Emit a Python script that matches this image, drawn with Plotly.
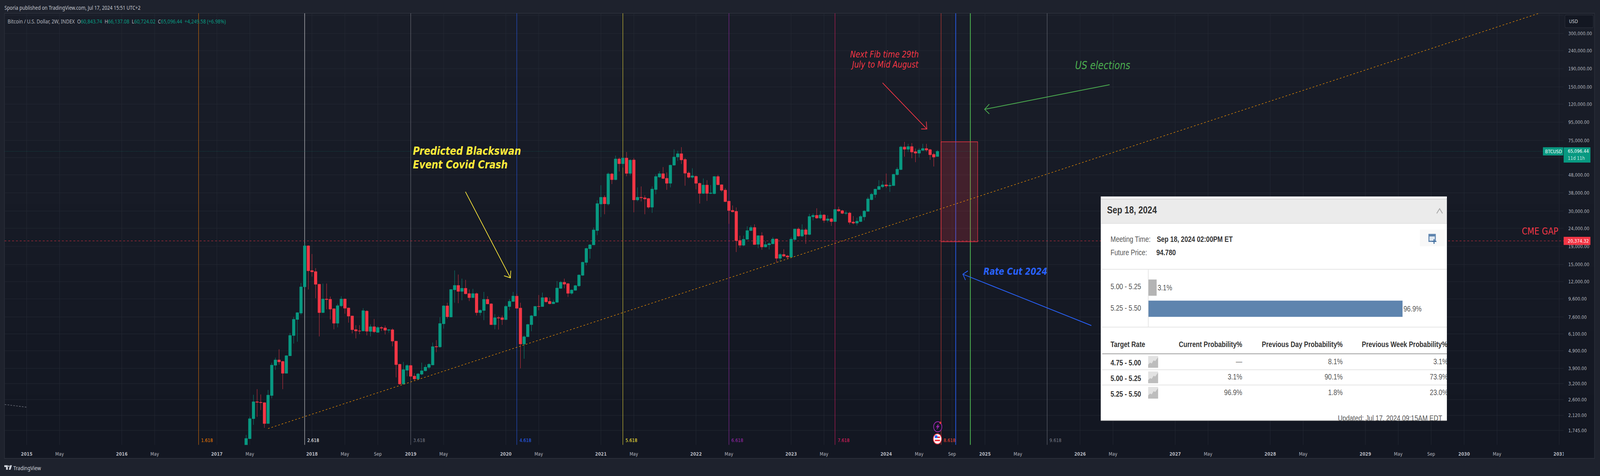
import plotly.graph_objects as go

W, H = 5014, 1218
PANE_L, PANE_R, PANE_T, PANE_B = 14, 4904, 34, 1138.5
FRAME_R, FRAME_B = 5001, 1173
UI = "DejaVu Sans"
TITLE = "Noto Sans"
ARIAL = "Liberation Sans"
UP, DOWN = "#089981", "#f23645"

first_bar = 60
opens = [1250,1566,2031,2530,2512,2500,1906,2742,4060,4352,
         4267,3660,4589,5970,7350,7988,11223,19116,13880,13688,
         11620,8034,9590,9552,8455,7003,8770,9590,8540,7700,
         6450,6343,6333,8194,6300,6694,6222,6628,6590,6396,
         6435,5552,4115,3183,3805,4050,3530,3399,3615,3779,
         3950,4075,5180,5150,6950,8770,7590,10800,11442,10581,
         11022,10290,9755,10290,8034,8260,9543,9010,6871,7530,
         7522,7338,8690,9280,9950,8530,5349,5876,6871,7700,
         8717,8690,9755,9307,9020,9190,11000,11917,11700,10321,
         10730,11370,13040,15400,18400,19340,23290,32860,35860,32860,
         48570,45050,58970,55430,59710,48880,58240,34650,35860,35640,
         35310,31550,39640,46630,48720,45900,42990,54390,60440,63140,
         58600,49180,46490,47080,42990,37700,42060,37700,37580,46930,
         42200,39400,34110,30290,29900,20500,19250,20810,23290,24250,
         19490,21810,18830,19370,19610,20880,16250,17090,16770,16510,
         20730,23770,21690,23530,22140,27820,28390,27390,28530,26570,
         27120,26170,30630,30160,29120,29260,26040,25650,26170,27820,
         29860,34760,37140,39670,41100,42150,41510,41720,48090,51360,
         68910,66850,69260,64840,63550,65840,67530,66510,62590,60843.74]
highs = [1646,2086,2770,2978,2780,2512,2948,4200,4481,4993,
         4290,4615,6174,7606,8060,11810,19765,19240,17192,14319,
         11650,11718,11718,9897,8480,9004,9935,9650,8570,7710,
         6826,6826,8506,8280,6906,7398,6733,6733,6799,6470,
         6548,5560,4130,4243,4115,4090,3664,3680,4202,4090,
         4160,5451,5622,7570,8860,9137,10847,13889,13170,12491,
         12297,10847,10940,10420,8370,10514,9939,9070,7885,7700,
         7738,8860,9570,10514,10250,9137,5980,6950,7790,8717,
         10097,10416,9880,9780,9490,12104,12104,12491,11800,10847,
         11500,13190,15550,18650,19540,24250,34540,41930,36770,49490,
         49180,61600,60060,60060,64550,58780,59710,40770,41280,36770,
         35530,41280,48270,50270,53060,49490,54730,66810,65570,68720,
         59710,50270,52240,47520,43400,45760,44770,42060,47220,47970,
         42330,40390,34220,32250,31450,21810,21810,24630,24870,25260,
         21900,22780,20300,19980,21400,21010,17360,18300,16980,21390,
         23830,24260,25260,24010,28960,29120,31100,30020,28820,28390,
         27390,30750,31730,30470,30160,29710,28100,27530,28530,30320,
         36020,37900,40000,44800,44340,48820,43450,48560,52950,69970,
         73610,71770,72490,67530,67870,71770,71770,67180,63870,66137.08]
lows = [1190,1566,1875,2078,2271,1804,1906,2642,3822,4094,
        2978,3660,4589,5380,5509,7800,10897,10850,12826,9684,
        5902,8034,8390,7354,6473,6640,8640,7925,7058,6138,
        5753,6079,6333,5981,5902,6174,6174,6333,6054,6198,
        5193,3470,3160,3160,3518,3356,3335,3380,3570,3750,
        3864,4075,4809,5100,6534,7450,7590,9137,9080,9430,
        10200,9335,9730,7738,7738,7290,8992,6871,6475,6450,
        6855,7300,8280,9280,8500,3899,4419,5876,6315,7680,
        8280,8690,9150,8950,8992,9137,11000,11022,9847,10150,
        10700,11230,12950,14835,16190,19340,21950,27750,28780,32250,
        42590,44770,50110,52730,47080,47670,29520,34000,34000,28780,
        30960,29330,37350,46200,45480,39520,40770,54050,57520,55250,
        41670,45760,45760,39770,33060,37470,34220,37350,37350,41930,
        38540,33790,25420,29520,17630,18650,19010,20750,23140,19370,
        18530,18180,18710,18240,19550,15400,15540,16560,16200,16460,
        20510,21520,21410,19610,21920,26570,27120,26980,25780,25910,
        24750,26170,29710,28820,28530,25260,25260,24880,26040,26570,
        29860,34560,35660,39670,40480,40480,38470,41720,47600,51110,
        60710,64510,59490,56560,60100,65840,64840,58300,53480,60724.02]
closes = [1572,2031,2530,2512,2500,1906,2758,4070,4352,4243,
          3660,4599,5981,7369,8034,11223,19116,13821,13633,11604,
          8034,9590,9514,8407,7003,8794,9590,8506,7678,6435,
          6333,6333,8243,6309,6694,6272,6628,6564,6396,6435,
          5552,4094,3183,3838,4050,3518,3399,3630,3779,3961,
          4115,5170,5150,6978,8770,7618,10847,11442,10581,11022,
          10256,9755,10290,8034,8287,9543,8992,6871,7522,7490,
          7338,8717,9307,9970,8500,5349,5876,6892,7715,8717,
          8690,9755,9249,9020,9220,11056,11917,11621,10321,10778,
          11406,13090,15451,18470,19360,23500,33060,35860,32960,48570,
          45050,58970,55430,59710,48880,58060,34650,35860,35640,35090,
          31550,39890,46930,48720,45760,42990,54390,60440,63140,58240,
          49030,46490,47370,42990,37700,42060,37700,37940,46930,42200,
          39270,33890,30190,29710,20430,19250,20810,23290,24250,19430,
          21810,18830,19430,19670,20880,16250,17090,16720,16510,20840,
          23770,21690,23530,22140,27960,28390,27390,28530,26570,27120,
          26170,30630,30020,29120,29260,25910,25650,26310,27960,30020,
          35120,37330,39870,41310,42150,41510,41930,48320,51620,68910,
          66850,69260,64510,63550,66170,67530,66170,62270,60400,65096.44]

time_tick_bars = [0,9,26,35,52,61,78,87,96,105,114,131,140,157,166,183,192,209,218,
                  235,244,253,262,271,288,297,314,323,340,349,366,375,384,393,402,419]
time_tick_text = ["2015","May","2016","May","2017","May","2018","May","Sep","2019","May",
                  "2020","May","2021","May","2022","May","2023","May","2024","May","Sep",
                  "2025","May","2026","May","2027","May","2028","May","2029","May","Sep",
                  "2030","May","2031"]
price_ticks = [380000,300000,240000,190000,150000,120000,95000,75000,60000,48000,38000,30000,
               24000,19000,15000,12000,9600,7600,6100,4900,3900,3200,2600,2120,1745]
hidden_price_ticks = [380000,60000]

last_price = 65096.44
cme_gap_price = 20374.32
zone_top, zone_bottom = 73660, 20160
zone_bars = [250, 260]
trend_bars, trend_prices = [66, 413.5], [1787, 390000]
old_trend_bars, old_trend_prices = [-6, 0], [2441, 2358]

fib_bars = [47, 76, 105, 134, 163, 192, 221, 250, 279]
fib_labels = ["1.618","2.618","3.618","4.618","5.618","6.618","7.618","8.618","9.618"]
fib_line_colors = ["#f57c00","#ffffff","#787b86","#2962ff","#ffeb3b","#9c27b0","#e91e63","#f44336","#787b86"]
fib_text_colors = ["#f57c00","#ffffff","#787b86","#2962ff","#ffeb3b","#9c27b0","#e91e63","#f44336","#787b86"]
rate_cut_bar, election_bar = 254, 258

prob_rates = ["5.25 - 5.50", "5.00 - 5.25"]
prob_values = [96.9, 3.1]
prob_colors = ["#5e84ae", "#b4b4b4"]
table_rates = ["4.75 - 5.00", "5.00 - 5.25", "5.25 - 5.50"]
table_current = ["—", "3.1%", "96.9%"]
table_prev_day = ["8.1%", "90.1%", "1.8%"]
table_prev_week = ["3.1%", "73.9%", "23.0%"]

X_RANGE = [(PANE_L - 83.7) / 11.471, (PANE_R - 83.7) / 11.471]
Y_BOTTOM, Y_TOP = 1445, 390000


def fx(x): return x / W
def fy(y): return 1 - y / H
def px2x(x): return (x - 3602) / 8.222
def px2y(y): return (790 - y) / 54.1


shapes, notes = [], []


def rect(x0, y0, x1, y1, fill, line=None, lw=1, layer="above"):
    shapes.append(dict(type="rect", xref="paper", yref="paper", x0=fx(x0), x1=fx(x1), y0=fy(y0), y1=fy(y1),
                       fillcolor=fill, line=dict(color=line or "rgba(0,0,0,0)", width=lw if line else 0), layer=layer))


def poly(points, color, lw=2, close=False, fill=None, layer="above"):
    d = " ".join(("M" if i == 0 else "L") + f"{fx(a):.6f},{fy(b):.6f}" for i, (a, b) in enumerate(points))
    if close:
        d += " Z"
    shapes.append(dict(type="path", path=d, xref="paper", yref="paper", layer=layer,
                       line=dict(color=color, width=lw), fillcolor=fill or "rgba(0,0,0,0)"))


def arrow(tail, tip, h1, h2, color):
    poly([tail, tip], color, 2)
    poly([h1, tip, h2], color, 2)


def pshape(kind, x0, y0, x1, y1, fill, line=None, lw=0):
    shapes.append(dict(type=kind, xref="x2", yref="y2", layer="between", x0=px2x(x0), x1=px2x(x1),
                       y0=px2y(y0), y1=px2y(y1), fillcolor=fill,
                       line=dict(color=line or "rgba(0,0,0,0)", width=lw)))


def note(x, y, text, size=13, color="#b2b5be", anchor="left", family=UI, align="left"):
    notes.append(dict(x=fx(x), y=fy(y), xref="paper", yref="paper", text=text, showarrow=False,
                      xanchor=anchor, yanchor="middle", align=align, borderpad=0,
                      font=dict(size=size, color=color, family=family)))


# page background and chart pane
rect(0, 0, W, H, "#1e222d", layer="below")
BANDS = 14
for i in range(BANDS):
    t = i / (BANDS - 1)
    c = tuple(round(a + (b - a) * t) for a, b in zip((25, 29, 40), (19, 23, 34)))
    rect(14, 34 + (FRAME_B - 34) * i / BANDS, FRAME_R, 34 + (FRAME_B - 34) * (i + 1) / BANDS + 1,
         f"rgb{c}", layer="below")
rect(14, 34, FRAME_R, FRAME_B, "rgba(0,0,0,0)", "#2a2e39", 2, layer="below")

# fib zones, event lines, zone, level lines
for b, c in zip(fib_bars, fib_line_colors):
    shapes.append(dict(type="line", xref="x", yref="y", x0=b, x1=b, y0=Y_BOTTOM, y1=Y_TOP, layer="between",
                       line=dict(color=c, width=1)))
for b, c, w in [(rate_cut_bar, "#2962ff", 2), (election_bar, "#4caf50", 2.5)]:
    shapes.append(dict(type="line", xref="x", yref="y", x0=b, x1=b, y0=Y_BOTTOM, y1=Y_TOP, layer="between",
                       line=dict(color=c, width=w)))
shapes.append(dict(type="rect", xref="x", yref="y", x0=zone_bars[0], x1=zone_bars[1], y0=zone_bottom, y1=zone_top,
                   layer="between", fillcolor="rgba(242,54,69,0.2)", line=dict(color="#f23645", width=1.5)))
shapes.append(dict(type="line", xref="x", yref="y", x0=X_RANGE[0], x1=X_RANGE[1], y0=last_price, y1=last_price,
                   layer="between", line=dict(color="#089981", width=1, dash="1px,3px")))
shapes.append(dict(type="line", xref="x", yref="y", x0=X_RANGE[0], x1=X_RANGE[1], y0=cme_gap_price, y1=cme_gap_price,
                   layer="between", line=dict(color="#f23645", width=1, dash="6px,6px")))

# drawn arrows
arrow((1459.7, 490.7), (1600.8, 711), (1580.8, 705.6), (1602, 692.6), "#ffeb3b")
arrow((2767.9, 212), (2906.9, 330), (2889, 330), (2905, 310.8), "#f23645")
arrow((3480, 216.8), (3088, 279.7), (3102.7, 266.5), (3102.7, 291.4), "#4caf50")
arrow((3422.8, 833), (3019.8, 701.6), (3035.7, 693), (3028, 716.4), "#2962ff")

# price scale labels
rect(4904, 1145, 4925, 1171, "rgb(19,23,34)")
r = "M{0},{1} L{2},{1} Q{3},{1} {3},{4} L{3},{5} Q{3},{6} {2},{6} L{0},{6} Q{7},{6} {7},{5} L{7},{4} Q{7},{1} {0},{1} Z"
shapes.append(dict(type="path", xref="paper", yref="paper", layer="above",
                   path=r.format(fx(4912), fy(38.4), fx(4993), fx(4997), fy(42.4), fy(67), fy(71), fx(4908)),
                   fillcolor="#131722", line=dict(color="#2a2e39", width=1.5)))
note(4920, 54, "USD", 13, "#d1d4dc")
rect(4839, 376.8, 4902.7, 397.8, "#089981")
rect(4904, 377, 4988, 416, "#089981")
rect(4904, 606, 4988, 626.8, "#f23645")
note(4845, 387.3, "BTCUSD", 13, "#ffffff")
note(4916, 386.5, f"{last_price:,.2f}", 13, "#ffffff")
note(4916, 404, "11d 11h", 13, "#c9e9e3")
note(4916, 616, f"{cme_gap_price:,.2f}", 13, "#ffffff")

# header and footer text
note(13, 19, "Sporia published on TradingView.com, Jul 17, 2024 15:51 UTC+2", 14.4, "#c4c7cf", family=TITLE)
g = lambda s: f"<span style='color:#089981'>{s}</span>"
note(23, 54, "Bitcoin / U.S. Dollar, 2W, INDEX  O" + g("60,843.74") + "  H" + g("66,137.08") + "  L" + g("60,724.02")
     + "  C" + g("65,096.44") + "  " + g("+4,249.58 (+6.98%)"), 14.7, "#b2b5be", family=TITLE)
note(41.5, 1197, "TradingView", 15, "#d1d4dc", family=TITLE)
rect(13.5, 1190.5, 24.5, 1195, "#d1d4dc")
rect(19, 1195, 24.5, 1202, "#d1d4dc")
shapes.append(dict(type="circle", xref="paper", yref="paper", x0=fx(25.5), x1=fx(29.5), y0=fy(1191), y1=fy(1195),
                   fillcolor="#d1d4dc", line=dict(width=0), layer="above"))
poly([(31.5, 1190.5), (37.5, 1190.5), (33, 1202), (27.5, 1202)], "#d1d4dc", 0, True, "#d1d4dc")

# chart annotations
note(1294, 386, "<b><i>Predicted Blackswan</i></b>", 29, "#ffeb3b")
note(1294, 421, "<b><i>Event Covid Crash</i></b>", 29, "#ffeb3b")
note(2882, 139, "<i>Next Fib time 29th</i>", 23, "#f23645", anchor="right")
note(2882, 164.7, "<i>July to Mid August</i>", 23, "#f23645", anchor="right")
note(3371, 167, "<i>US elections</i>", 28, "#4caf50")
note(3083.5, 694, "<b><i>Rate Cut 2024</i></b>", 25, "#2962ff")
note(4772, 591, "CME GAP", 25, "#f23645")
for b, lab, c in zip(fib_bars, fib_labels, fib_text_colors):
    notes.append(dict(x=b, xref="x", xshift=7, y=fy(1126), yref="paper", text=lab, showarrow=False, xanchor="left",
                      yanchor="middle", borderpad=0, font=dict(size=13, color=c, family=UI)))

# calendar event badges
shapes.append(dict(type="circle", xref="paper", yref="paper", x0=fx(2928), x1=fx(2954), y0=fy(1079), y1=fy(1105),
                   fillcolor="#131722", line=dict(color="#9c27b0", width=2), layer="above"))
poly([(2943, 1085), (2936, 1093), (2941, 1093), (2938, 1099), (2946, 1090), (2941, 1090)], "#9c27b0", 1, True, "#9c27b0")
shapes.append(dict(type="circle", xref="paper", yref="paper", x0=fx(2946.5), x1=fx(2952.5), y0=fy(1079), y1=fy(1085),
                   fillcolor="#f23645", line=dict(width=0), layer="above"))
shapes.append(dict(type="circle", xref="paper", yref="paper", x0=fx(2927), x1=fx(2953), y0=fy(1110), y1=fy(1136),
                   fillcolor="#ffffff", line=dict(color="#f23645", width=2), layer="above"))
rect(2932, 1117, 2948, 1121, "#f23645")
rect(2932, 1125, 2948, 1129, "#f23645")
rect(2932, 1114, 2940, 1121, "#2962ff")

# FedWatch panel drawn in its own subplot above the price chart
pshape("rect", 3452, 502.5, 4538, 1077, "#ffffff")
pshape("rect", 3452, 508.5, 4538, 510.5, "#cccccc")
pshape("rect", 3452, 510.5, 4538, 571, "#ebebeb")
pshape("rect", 3452, 571, 4538, 572.5, "#dddddd")
pshape("rect", 4453, 587.5, 4531, 630, "#f8f8f8")
pshape("rect", 4480, 598.5, 4503, 619, "#5e84ae")
pshape("rect", 4483, 605, 4500, 616, "#dfe7f0")
pshape("rect", 4496, 612, 4499, 624, "#3f6d9e")
pshape("rect", 4491, 616.5, 4505, 619, "#3f6d9e")
pshape("rect", 3457, 688, 4538, 690, "#e6e6e6")
pshape("rect", 3457, 836, 4538, 838, "#e6e6e6")
pshape("rect", 3600.5, 690, 3602, 836, "#d8d8d8")
pshape("rect", 3457, 904, 4538, 906.5, "#b0b0b0")
pshape("rect", 3457, 945.5, 4538, 947, "#dddddd")
pshape("rect", 3457, 984.5, 4538, 986, "#dddddd")
pshape("rect", 3452, 1075.5, 4538, 1077, "#999999")
for top in [911, 950.5, 990]:
    pshape("rect", 3601, top, 3632, top + 30, "#e2e2e2")
    x_pts = [3601, 3607, 3612, 3618, 3623, 3632, 3632, 3601]
    y_pts = [22, 17, 19, 11, 13, 3, 30, 30]
    d = " ".join(("M" if i == 0 else "L") + f"{px2x(a):.4f},{px2y(top + b):.4f}" for i, (a, b) in enumerate(zip(x_pts, y_pts))) + " Z"
    shapes.append(dict(type="path", path=d, xref="x2", yref="y2", layer="between",
                       fillcolor="#bdbdbd", line=dict(width=0)))
shapes.append(dict(type="path", xref="x2", yref="y2", layer="between",
                   path=f"M{px2x(4506)},{px2y(546)} L{px2x(4515)},{px2y(534)} L{px2x(4524)},{px2y(546)}",
                   fillcolor="rgba(0,0,0,0)", line=dict(color="#aaaaaa", width=2.5)))

fig = go.Figure()
fig.add_trace(go.Candlestick(
    x=list(range(first_bar, first_bar + len(closes))), open=opens, high=highs, low=lows, close=closes,
    increasing=dict(line=dict(color=UP, width=1), fillcolor=UP),
    decreasing=dict(line=dict(color=DOWN, width=1), fillcolor=DOWN),
    whiskerwidth=0, hoverinfo="skip"))
fig.add_trace(go.Scatter(x=trend_bars, y=trend_prices, mode="lines", hoverinfo="skip",
                         line=dict(color="#f59300", width=1.3, dash="5px,6px")))
fig.add_trace(go.Scatter(x=old_trend_bars, y=old_trend_prices, mode="lines", hoverinfo="skip",
                         line=dict(color="#787b86", width=1.3, dash="5px,4px")))
fig.add_trace(go.Bar(x=prob_values, y=[0, 1], orientation="h", xaxis="x2", yaxis="y2", width=0.767,
                     marker=dict(color=prob_colors, line=dict(width=0)),
                     text=[f"{v}%" for v in prob_values], textposition="outside", cliponaxis=True,
                     textfont=dict(family=ARIAL, size=20, color="#555555"), hoverinfo="skip"))


def ptext(xs, ys, texts, size=20, color="#555555", pos="middle right"):
    fig.add_trace(go.Scatter(x=[px2x(a) for a in xs], y=[px2y(b) for b in ys], text=texts, mode="text",
                             textposition=pos, xaxis="x2", yaxis="y2", hoverinfo="skip",
                             textfont=dict(family=ARIAL, size=size, color=color)))


ptext([3472], [540], ["<b>Sep 18, 2024</b>"], 26, "#333333")
ptext([3483, 3483], [614.5, 648], ["Meeting Time:", "Future Price:"])
ptext([3628, 3626.5], [614.5, 648], ["<b>Sep 18, 2024 02:00PM ET</b>", "<b>94.780</b>"], 20, "#333333")
ptext([3483, 3483], [735.5, 790], prob_rates[::-1])
ptext([3483], [883], ["<b>Target Rate</b>"], 20, "#333333")
ptext([3896, 4211], [883, 883], ["<b>Current Probability%</b>", "<b>Previous Day Probability%</b>"], 20, "#333333", "middle left")
ptext([4271], [883], ["<b>Previous Week Probability%</b>"], 20, "#333333")
ptext([3483] * 3, [930, 970, 1010], [f"<b>{s}</b>" for s in table_rates], 20, "#333333")
row_y = [927, 966, 1006]
ptext([3896] * 3, row_y, table_current, pos="middle left")
ptext([4211] * 3, row_y, table_prev_day, pos="middle left")
ptext([4541] * 3, row_y, table_prev_week, pos="middle left")
ptext([4523], [1072], ["Updated: Jul 17, 2024 09:15AM EDT"], pos="middle left")

grid = "#272b36"
fig.update_layout(
    width=W, height=H, autosize=False, margin=dict(l=0, r=0, t=0, b=0, pad=0),
    paper_bgcolor="#1e222d", plot_bgcolor="rgba(0,0,0,0)", showlegend=False, hovermode=False,
    boxgap=0.2, boxgroupgap=0.07, shapes=shapes, annotations=notes,
    xaxis=dict(domain=[fx(PANE_L), fx(PANE_R)], range=X_RANGE,
               anchor="y", rangeslider=dict(visible=False), tickmode="array", tickvals=time_tick_bars,
               ticktext=[f"<b>{t}</b>" if t.isdigit() else t for t in time_tick_text],
               tickfont=dict(family=UI, size=13, color="#b2b5be"), tickangle=0,
               ticks="outside", ticklen=11, tickcolor="rgba(0,0,0,0)", showgrid=True, gridcolor=grid, gridwidth=1,
               showline=False, zeroline=False),
    yaxis=dict(domain=[fy(PANE_B), fy(PANE_T)], type="log", range=[3.15987, 5.59106], anchor="x", side="right",
               tickmode="array", tickvals=price_ticks,
               ticktext=["" if p in hidden_price_ticks else f"{p:,.2f}" for p in price_ticks],
               tickfont=dict(family=UI, size=13, color="#b2b5be"),
               ticks="outside", ticklen=11, tickcolor="rgba(0,0,0,0)", showgrid=True, gridcolor=grid, gridwidth=1,
               showline=False, zeroline=False),
    xaxis2=dict(domain=[fx(3452), fx(4538)], range=[px2x(3452), px2x(4538)], anchor="y2", visible=False),
    yaxis2=dict(domain=[fy(1077), fy(502.5)], range=[px2y(1077), px2y(502.5)], anchor="x2", visible=False),
)

fit_script = """
document.documentElement.style.margin='0';
document.documentElement.style.overflow='hidden';
document.body.style.margin='0';
document.body.style.width='5014px';
document.body.style.height='1218px';
document.body.style.transformOrigin='0 0';
document.body.style.transform='scale('+(window.innerWidth/5014)+','+(window.innerHeight/1218)+')';
"""
fig.write_html("out.html", config=dict(displayModeBar=False), post_script=fit_script)
